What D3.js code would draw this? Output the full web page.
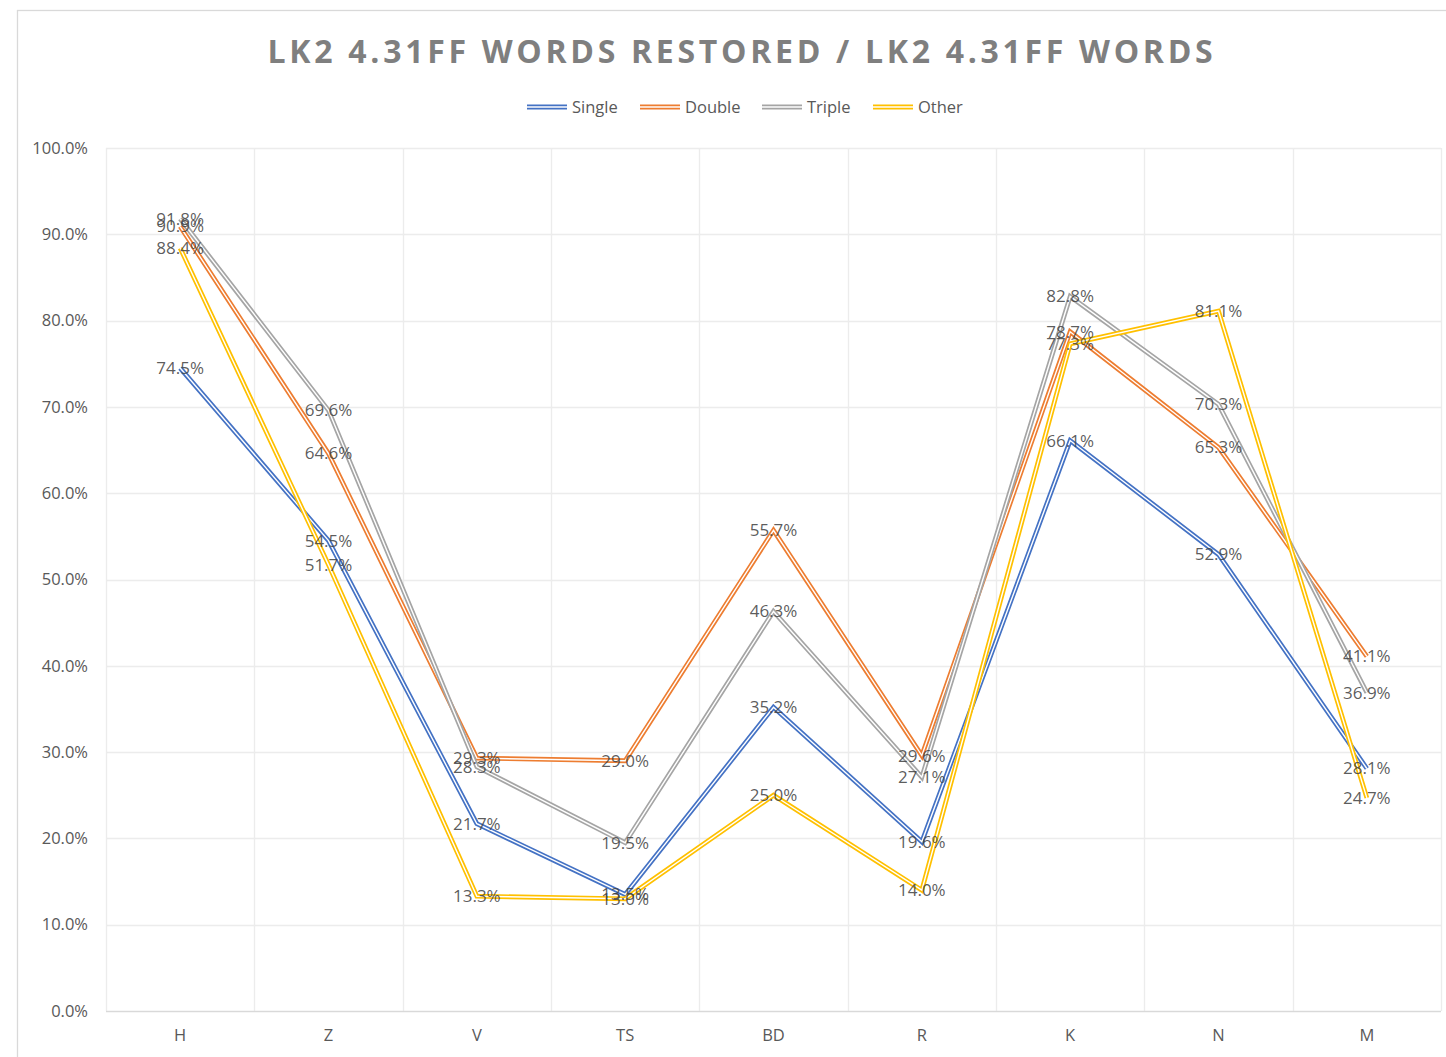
<!DOCTYPE html>
<html>
<head>
<meta charset="utf-8">
<script src="https://cdn.jsdelivr.net/npm/d3@7"></script>
<style>
  html, body { margin: 0; padding: 0; background: #fff; }
  svg { display: block; }
</style>
</head>
<body>
<svg id="chart" width="1446" height="1057"></svg>
<script>
const categories = ["H", "Z", "V", "TS", "BD", "R", "K", "N", "M"];
const seriesNames = ["Single", "Double", "Triple", "Other"];
const single = [74.5, 54.5, 21.7, 13.5, 35.2, 19.6, 66.1, 52.9, 28.1];
const double = [90.9, 64.6, 29.3, 29.0, 55.7, 29.6, 78.7, 65.3, 41.1];
const triple = [91.8, 69.6, 28.3, 19.5, 46.3, 27.1, 82.8, 70.3, 36.9];
const other  = [88.4, 51.7, 13.3, 13.0, 25.0, 14.0, 77.3, 81.1, 24.7];
const yTicks = [0, 10, 20, 30, 40, 50, 60, 70, 80, 90, 100];
const colors = ["#4472C4", "#ED7D31", "#A5A5A5", "#FFC000"];

const series = [single, double, triple, other].map((vals, i) => ({
  name: seriesNames[i], color: colors[i], values: vals
}));

const svg = d3.select("#chart");
const font = "'Open Sans', 'Noto Sans', sans-serif";
const txt = "#595959";

// chart frame
svg.append("rect").attr("x", 17.5).attr("y", 10.5).attr("width", 1460).attr("height", 1080)
  .attr("fill", "#fff").attr("stroke", "#d9d9d9").attr("stroke-width", 1.3);

const plot = { left: 106, right: 1441, top: 148, bottom: 1011 };

const x = d3.scaleBand().domain(categories).range([plot.left, plot.right]);
const y = d3.scaleLinear().domain([0, 100]).range([plot.bottom, plot.top]);
const cx = c => x(c) + x.bandwidth() / 2;

// horizontal gridlines
svg.append("g").selectAll("line").data(yTicks.filter(t => t > 0)).join("line")
  .attr("x1", plot.left).attr("x2", plot.right)
  .attr("y1", d => Math.round(y(d)) + 0.5).attr("y2", d => Math.round(y(d)) + 0.5)
  .attr("stroke", "#ececec").attr("stroke-width", 1.3);

// vertical gridlines at category boundaries
const bounds = categories.map(c => x(c)).concat([plot.right]);
svg.append("g").selectAll("line").data(bounds).join("line")
  .attr("x1", d => Math.round(d) + 0.5).attr("x2", d => Math.round(d) + 0.5)
  .attr("y1", plot.top).attr("y2", plot.bottom)
  .attr("stroke", "#ececec").attr("stroke-width", 1.3);

// category axis line
svg.append("line").attr("x1", plot.left).attr("x2", plot.right)
  .attr("y1", plot.bottom + 0.5).attr("y2", plot.bottom + 0.5)
  .attr("stroke", "#d9d9d9").attr("stroke-width", 1.3);

// y axis labels
const yAxis = d3.axisLeft(y).tickValues(yTicks).tickSize(0).tickPadding(0)
  .tickFormat(d => d.toFixed(1) + "%");
const yg = svg.append("g").attr("transform", `translate(${plot.left - 18},0)`).call(yAxis);
yg.select(".domain").remove();
yg.selectAll("text").attr("font-family", font).attr("font-size", 16.5).attr("fill", txt);

// x axis labels
const xAxis = d3.axisBottom(x).tickSize(0).tickPadding(0);
const xg = svg.append("g").attr("transform", `translate(0,${plot.bottom + 18})`).call(xAxis);
xg.select(".domain").remove();
xg.selectAll("text").attr("font-family", font).attr("font-size", 16.5).attr("fill", txt);

// lines: compound double stroke (colour with a white core)
const line = d3.line().x((d, i) => cx(categories[i])).y(d => y(d));
const lg = svg.append("g");
series.forEach(s => {
  lg.append("path").attr("d", line(s.values)).attr("fill", "none")
    .attr("stroke", s.color).attr("stroke-width", 4.8).attr("stroke-linejoin", "miter");
  lg.append("path").attr("d", line(s.values)).attr("fill", "none")
    .attr("stroke", "#fff").attr("stroke-width", 1.4).attr("stroke-linejoin", "miter");
});

// data labels, centred on each point
const labG = svg.append("g");
series.forEach(s => {
  labG.selectAll(null).data(s.values).join("text")
    .attr("x", (d, i) => cx(categories[i]))
    .attr("y", d => y(d))
    .attr("dy", "0.35em")
    .attr("text-anchor", "middle")
    .attr("font-family", font).attr("font-size", 17)
    .attr("fill", "#404040").attr("fill-opacity", 0.85)
    .text(d => d.toFixed(1) + "%");
});

// title
svg.append("text").attr("x", 742).attr("y", 63).attr("text-anchor", "middle")
  .attr("font-family", font).attr("font-weight", "bold").attr("font-size", 32)
  .attr("letter-spacing", 3.7).attr("fill", "#7f7f7f")
  .text("LK2 4.31FF WORDS RESTORED / LK2 4.31FF WORDS");

// legend
const legendX = [527, 640, 762, 873];
const lgd = svg.append("g");
series.forEach((s, i) => {
  const g = lgd.append("g").attr("transform", `translate(${legendX[i]},107)`);
  g.append("line").attr("x1", 0).attr("x2", 40).attr("y1", 0).attr("y2", 0)
    .attr("stroke", s.color).attr("stroke-width", 4.8);
  g.append("line").attr("x1", 0).attr("x2", 40).attr("y1", 0).attr("y2", 0)
    .attr("stroke", "#fff").attr("stroke-width", 1.4);
  g.append("text").attr("x", 45).attr("y", 0).attr("dy", "0.35em")
    .attr("font-family", font).attr("font-size", 16.5).attr("fill", txt)
    .text(s.name);
});
</script>
</body>
</html>
